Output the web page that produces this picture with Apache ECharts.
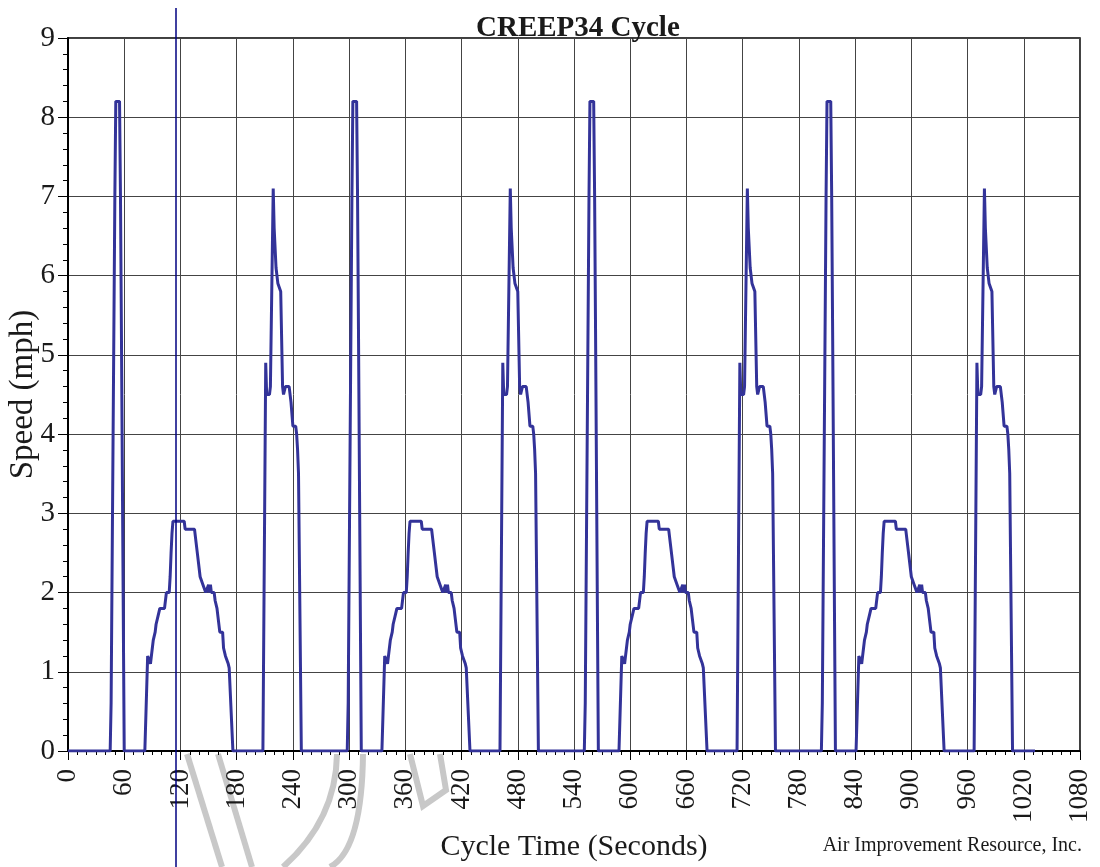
<!DOCTYPE html>
<html>
<head>
<meta charset="utf-8">
<script src="https://cdn.jsdelivr.net/npm/echarts@6/dist/echarts.min.js"></script>
<style>
  html, body { margin: 0; padding: 0; background: #fff; }
  #chart { width: 1100px; height: 867px; }
</style>
</head>
<body>
<div id="chart"></div>
<script>
// cycle time (s) and speed (mph), one line per event
var timeSec = [
  0,
  45, 46, 47, 48, 49, 50, 51, 55, 56, 57, 58, 59, 60,
  82, 85, 87, 88, 89, 90, 91, 93, 94, 96, 98, 103, 105, 108, 109, 110, 111, 112, 124, 125, 135, 136, 138, 140, 141, 143, 144, 147, 149, 150, 151, 152, 153, 156, 157, 159, 160, 162, 165, 166, 168, 171, 172, 176,
  208, 211, 212, 215, 216, 219, 220, 222, 224, 227, 229, 230, 231, 232, 236, 238, 240, 243, 244, 245, 246, 249,
  298, 299, 300, 301, 302, 303, 304, 308, 309, 310, 311, 312, 313,
  335, 338, 340, 341, 342, 343, 344, 346, 347, 349, 351, 356, 358, 361, 362, 363, 364, 365, 377, 378, 388, 389, 391, 393, 394, 396, 397, 400, 402, 403, 404, 405, 406, 409, 410, 412, 413, 415, 418, 419, 421, 424, 425, 429,
  461, 464, 465, 468, 469, 472, 473, 475, 477, 480, 482, 483, 484, 485, 489, 491, 493, 496, 497, 498, 499, 502,
  551, 552, 553, 554, 555, 556, 557, 561, 562, 563, 564, 565, 566,
  588, 591, 593, 594, 595, 596, 597, 599, 600, 602, 604, 609, 611, 614, 615, 616, 617, 618, 630, 631, 641, 642, 644, 646, 647, 649, 650, 653, 655, 656, 657, 658, 659, 662, 663, 665, 666, 668, 671, 672, 674, 677, 678, 682,
  714, 717, 718, 721, 722, 725, 726, 728, 730, 733, 735, 736, 737, 738, 742, 744, 746, 749, 750, 751, 752, 755,
  804, 805, 806, 807, 808, 809, 810, 814, 815, 816, 817, 818, 819,
  841, 844, 846, 847, 848, 849, 850, 852, 853, 855, 857, 862, 864, 867, 868, 869, 870, 871, 883, 884, 894, 895, 897, 899, 900, 902, 903, 906, 908, 909, 910, 911, 912, 915, 916, 918, 919, 921, 924, 925, 927, 930, 931, 935,
  967, 970, 971, 974, 975, 978, 979, 981, 983, 986, 988, 989, 990, 991, 995, 997, 999, 1002, 1003, 1004, 1005, 1008,
  1032
];
var speedMph = [
  0,
  0, 0.6, 2.2, 3.8, 5.4, 7.0, 8.2, 8.2, 7.0, 5.3, 3.5, 1.7, 0,
  0, 1.2, 1.2, 1.1, 1.2, 1.3, 1.4, 1.5, 1.6, 1.7, 1.8, 1.8, 2.0, 2.0, 2.2, 2.5, 2.75, 2.9, 2.9, 2.8, 2.8, 2.7, 2.5, 2.3, 2.2, 2.2, 2.1, 2.0, 2.0, 2.1, 2.0, 2.1, 2.0, 2.0, 1.9, 1.8, 1.7, 1.5, 1.5, 1.3, 1.2, 1.1, 1.05, 0,
  0, 4.9, 4.5, 4.5, 4.6, 7.1, 6.6, 6.1, 5.9, 5.8, 4.6, 4.5, 4.5, 4.6, 4.6, 4.4, 4.1, 4.1, 4.0, 3.8, 3.5, 0,
  0, 0.6, 2.2, 3.8, 5.4, 7.0, 8.2, 8.2, 7.0, 5.3, 3.5, 1.7, 0,
  0, 1.2, 1.2, 1.1, 1.2, 1.3, 1.4, 1.5, 1.6, 1.7, 1.8, 1.8, 2.0, 2.0, 2.2, 2.5, 2.75, 2.9, 2.9, 2.8, 2.8, 2.7, 2.5, 2.3, 2.2, 2.2, 2.1, 2.0, 2.0, 2.1, 2.0, 2.1, 2.0, 2.0, 1.9, 1.8, 1.7, 1.5, 1.5, 1.3, 1.2, 1.1, 1.05, 0,
  0, 4.9, 4.5, 4.5, 4.6, 7.1, 6.6, 6.1, 5.9, 5.8, 4.6, 4.5, 4.5, 4.6, 4.6, 4.4, 4.1, 4.1, 4.0, 3.8, 3.5, 0,
  0, 0.6, 2.2, 3.8, 5.4, 7.0, 8.2, 8.2, 7.0, 5.3, 3.5, 1.7, 0,
  0, 1.2, 1.2, 1.1, 1.2, 1.3, 1.4, 1.5, 1.6, 1.7, 1.8, 1.8, 2.0, 2.0, 2.2, 2.5, 2.75, 2.9, 2.9, 2.8, 2.8, 2.7, 2.5, 2.3, 2.2, 2.2, 2.1, 2.0, 2.0, 2.1, 2.0, 2.1, 2.0, 2.0, 1.9, 1.8, 1.7, 1.5, 1.5, 1.3, 1.2, 1.1, 1.05, 0,
  0, 4.9, 4.5, 4.5, 4.6, 7.1, 6.6, 6.1, 5.9, 5.8, 4.6, 4.5, 4.5, 4.6, 4.6, 4.4, 4.1, 4.1, 4.0, 3.8, 3.5, 0,
  0, 0.6, 2.2, 3.8, 5.4, 7.0, 8.2, 8.2, 7.0, 5.3, 3.5, 1.7, 0,
  0, 1.2, 1.2, 1.1, 1.2, 1.3, 1.4, 1.5, 1.6, 1.7, 1.8, 1.8, 2.0, 2.0, 2.2, 2.5, 2.75, 2.9, 2.9, 2.8, 2.8, 2.7, 2.5, 2.3, 2.2, 2.2, 2.1, 2.0, 2.0, 2.1, 2.0, 2.1, 2.0, 2.0, 1.9, 1.8, 1.7, 1.5, 1.5, 1.3, 1.2, 1.1, 1.05, 0,
  0, 4.9, 4.5, 4.5, 4.6, 7.1, 6.6, 6.1, 5.9, 5.8, 4.6, 4.5, 4.5, 4.6, 4.6, 4.4, 4.1, 4.1, 4.0, 3.8, 3.5, 0,
  0
];

var serif = '"Liberation Serif", "DejaVu Serif", serif';

var chart = echarts.init(document.getElementById('chart'));

var options = {
  backgroundColor: '#fff',
  animation: false,
  title: {
    text: 'CREEP34 Cycle',
    left: 471,
    top: 9,
    textStyle: { fontFamily: serif, fontSize: 29, fontWeight: 'bold', color: '#1a1a1a' }
  },
  grid: {
    left: 68, top: 38, width: 1012, height: 713,
    outerBoundsMode: 'none',
    containLabel: false,
    show: true, borderColor: '#000', borderWidth: 1.5, backgroundColor: '#fff'
  },
  xAxis: {
    type: 'value',
    min: 0, max: 1080, interval: 60,
    name: 'Cycle Time (Seconds)',
    nameLocation: 'middle',
    nameGap: 81,
    nameMoveOverlap: false,
    nameTextStyle: { fontFamily: serif, fontSize: 30, color: '#1a1a1a' },
    axisLine: { show: true, onZero: false, lineStyle: { color: '#000', width: 2 } },
    axisTick: { show: true, length: 9, lineStyle: { color: '#000', width: 1 } },
    minorTick: { show: true, splitNumber: 6, length: 4, lineStyle: { color: '#000', width: 1 } },
    axisLabel: {
      rotate: 90, margin: 18, fontFamily: serif, fontSize: 27, color: '#1a1a1a',
      formatter: function (v) { return String(v); }
    },
    splitLine: { show: true, lineStyle: { color: '#444', width: 1 } }
  },
  yAxis: {
    type: 'value',
    min: 0, max: 9, interval: 1,
    name: 'Speed (mph)',
    nameLocation: 'middle',
    nameGap: 28,
    nameMoveOverlap: false,
    nameTextStyle: { fontFamily: serif, fontSize: 33, color: '#1a1a1a' },
    axisLine: { show: true, lineStyle: { color: '#000', width: 2 } },
    axisTick: { show: true, length: 10, lineStyle: { color: '#000', width: 1 } },
    minorTick: { show: true, splitNumber: 5, length: 5, lineStyle: { color: '#000', width: 1 } },
    axisLabel: { margin: 13, fontFamily: serif, fontSize: 29, color: '#1a1a1a' },
    splitLine: { show: true, lineStyle: { color: '#444', width: 1 } }
  },
  series: [{
    name: 'Speed',
    type: 'line',
    showSymbol: false,
    symbol: 'none',
    lineStyle: { color: '#333399', width: 3 },
    data: timeSec.map(function (t, i) { return [t, speedMph[i]]; })
  }],
  graphic: [
    // faint grey watermark strokes below the axis
    { type: 'line', z: -1, shape: { x1: 187, y1: 754, x2: 222, y2: 867 }, style: { stroke: '#c8c8c8', lineWidth: 6 } },
    { type: 'line', z: -1, shape: { x1: 218, y1: 754, x2: 252, y2: 867 }, style: { stroke: '#c8c8c8', lineWidth: 6 } },
    { type: 'bezierCurve', z: -1, shape: { x1: 337, y1: 754, cpx1: 336, cpy1: 820, x2: 283, y2: 867 }, style: { stroke: '#c8c8c8', lineWidth: 6, fill: null } },
    { type: 'bezierCurve', z: -1, shape: { x1: 363, y1: 754, cpx1: 362, cpy1: 850, x2: 330, y2: 867 }, style: { stroke: '#c8c8c8', lineWidth: 6, fill: null } },
    { type: 'polyline', z: -1, shape: { points: [[410, 754], [423, 806], [446, 790], [440, 754]] }, style: { stroke: '#c8c8c8', lineWidth: 6, fill: null } },
    // cursor line
    { type: 'line', z: 100, shape: { x1: 176, y1: 8, x2: 176, y2: 867 }, style: { stroke: '#000080', lineWidth: 1.5 } },
    {
      type: 'text', z: 100,
      style: {
        text: 'Air Improvement Resource, Inc.',
        x: 1082, y: 846,
        align: 'right', verticalAlign: 'middle',
        font: '20px ' + serif,
        fill: '#1a1a1a'
      }
    }
  ]
};

chart.setOption(options, true);
</script>
</body>
</html>
